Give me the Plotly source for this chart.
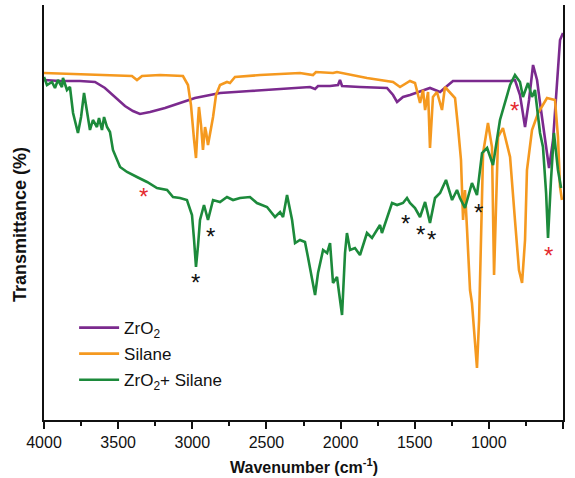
import plotly.graph_objects as go

# ---------------- data (wavenumber in cm^-1, transmittance in arbitrary units) ----------------
zro2_wn = [4000, 3892, 3757, 3656, 3589, 3521, 3454, 3400, 3353, 3285,
           3184, 3083, 2982, 2880, 2813, 2611, 2408, 2206, 2172, 2152,
           2071, 2017, 2004, 1990, 1869, 1687, 1646, 1619, 1579, 1532,
           1397, 1329, 1282, 1242, 1060, 857, 824, 790, 756, 729,
           702, 675, 655, 628, 594, 567, 540, 520, 500]
zro2_t = [340, 339, 339, 338, 332, 323, 314, 309, 306, 308,
          312, 317, 322, 325, 327, 329, 331, 333, 331, 334,
          334, 335, 340, 334, 333, 332, 325, 318, 323, 325,
          332, 328, 334, 339, 339, 339, 340, 325, 293, 320,
          355, 340, 317, 290, 252, 280, 333, 380, 387]

silane_wn = [4000, 3757, 3487, 3407, 3373, 3339, 3218, 3063, 3029, 3009,
             2988, 2975, 2961, 2955, 2941, 2928, 2914, 2907, 2894, 2874,
             2860, 2840, 2813, 2766, 2746, 2712, 2543, 2274, 2186, 2166,
             2051, 2024, 1822, 1646, 1599, 1532, 1498, 1464, 1444, 1430,
             1410, 1397, 1377, 1350, 1316, 1296, 1262, 1228, 1208, 1188,
             1174, 1161, 1147, 1127, 1114, 1093, 1080, 1066, 1053, 1039,
             1006, 979, 965, 952, 938, 905, 871, 857, 824, 797,
             776, 756, 743, 709, 668, 608, 554, 534, 520, 507]
silane_t = [347, 346, 345, 344, 340, 344, 345, 344, 335, 315,
            280, 262, 300, 313, 295, 270, 293, 288, 275, 290,
            303, 325, 335, 338, 337, 343, 345, 347, 345, 348,
            347, 348, 342, 338, 333, 339, 337, 317, 330, 310,
            328, 272, 323, 328, 310, 333, 328, 322, 293, 260,
            200, 230, 190, 130, 117, 80, 52, 100, 180, 267,
            297, 273, 145, 220, 283, 292, 270, 263, 200, 150,
            137, 180, 250, 290, 307, 322, 320, 283, 233, 220]

mix_wn = [4000, 3980, 3946, 3926, 3906, 3879, 3872, 3845, 3825, 3804,
          3771, 3750, 3730, 3710, 3690, 3670, 3643, 3629, 3609, 3595,
          3575, 3555, 3535, 3487, 3440, 3373, 3305, 3238, 3170, 3130,
          3083, 3036, 3002, 2988, 2975, 2961, 2948, 2921, 2894, 2860,
          2813, 2766, 2725, 2678, 2611, 2564, 2496, 2442, 2408, 2388,
          2361, 2327, 2307, 2274, 2240, 2220, 2193, 2172, 2152, 2118,
          2091, 2071, 2051, 2024, 2010, 1990, 1970, 1957, 1936, 1903,
          1869, 1822, 1788, 1734, 1721, 1687, 1653, 1619, 1579, 1552,
          1532, 1498, 1464, 1430, 1397, 1363, 1329, 1289, 1248, 1215,
          1195, 1161, 1114, 1080, 1046, 1012, 972, 925, 891, 857,
          824, 790, 770, 736, 709, 689, 655, 635, 614, 601,
          581, 561, 534, 513]
mix_t = [343, 335, 338, 332, 340, 333, 342, 330, 333, 307,
         287, 303, 327, 307, 290, 300, 293, 302, 290, 303,
         293, 288, 270, 253, 248, 243, 238, 232, 230, 223,
         222, 220, 205, 180, 153, 175, 200, 215, 200, 220,
         218, 223, 220, 222, 223, 217, 213, 203, 208, 203,
         225, 200, 177, 180, 178, 163, 143, 125, 147, 170,
         167, 177, 137, 143, 127, 105, 167, 187, 170, 172,
         165, 187, 182, 195, 187, 203, 217, 215, 217, 222,
         217, 212, 203, 218, 197, 222, 227, 240, 220, 230,
         222, 212, 237, 225, 267, 272, 255, 300, 317, 335,
         345, 338, 323, 337, 323, 330, 287, 273, 227, 182,
         240, 287, 250, 232]

# band markers (asterisks)
star_wn = [3332, 2975, 2874, 1559, 1464, 1390, 1073, 830, 601]
star_t = [231, 145, 191, 204, 193, 188, 215, 317, 172]
star_kind = ["red", "black", "black", "black", "black", "black", "black", "red", "red"]

x_ticks = [4000, 3500, 3000, 2500, 2000, 1500, 1000, 500]

names = ["ZrO<sub>2</sub>", "Silane", "ZrO<sub>2</sub>+ Silane"]
colors = ["#7b2a8e", "#f5991f", "#1c8a3b"]
star_colors = {"red": "#e42a2f", "black": "#111111"}

FONT = "Arial, Liberation Sans, sans-serif"

fig = go.Figure()
for i, (wn, t) in enumerate([(zro2_wn, zro2_t), (silane_wn, silane_t), (mix_wn, mix_t)]):
    fig.add_trace(go.Scatter(
        x=wn, y=t, mode="lines", name=names[i],
        line=dict(color=colors[i], width=2.6),
        legendgroup=f"g{i}",
    ))

for w, t, k in zip(star_wn, star_t, star_kind):
    fig.add_annotation(x=w, y=t, text="*", showarrow=False,
                       font=dict(family=FONT, size=24, color=star_colors[k]),
                       xanchor="center", yanchor="middle", yshift=-7)

# axis titles
fig.add_annotation(xref="paper", yref="paper", x=0.5, y=-0.111,
                   text="<b>Wavenumber (cm<sup>-1</sup>)</b>", showarrow=False,
                   font=dict(family=FONT, size=16, color="#111"),
                   xanchor="center", yanchor="middle")
fig.add_annotation(xref="paper", yref="paper", x=-0.046, y=0.47,
                   text="<b>Transmittance (%)</b>", showarrow=False, textangle=-90,
                   font=dict(family=FONT, size=18, color="#111"),
                   xanchor="center", yanchor="middle")

fig.update_layout(
    width=575, height=478,
    margin=dict(l=44, r=12, t=5, b=58, autoexpand=False),
    paper_bgcolor="white", plot_bgcolor="white",
    font=dict(family=FONT, color="#111"),
    showlegend=True,
    legend=dict(x=0.058, y=0.265, xanchor="left", yanchor="top",
                bgcolor="rgba(0,0,0,0)", font=dict(family=FONT, size=17, color="#111"),
                traceorder="grouped", tracegroupgap=1, itemwidth=40),
)
fig.update_xaxes(
    range=[4000, 500], tickvals=x_ticks, ticktext=[str(v) for v in x_ticks],
    ticks="outside", ticklen=7, tickwidth=2, tickcolor="#111",
    tickfont=dict(family=FONT, size=16, color="#111"),
    minor=dict(dtick=250, ticks="outside", ticklen=4, tickwidth=2, tickcolor="#111"),
    showline=True, linewidth=2, linecolor="#111", mirror=False,
    showgrid=False, zeroline=False, automargin=False,
)
fig.update_yaxes(
    range=[0, 415], showticklabels=False, ticks="",
    showline=True, linewidth=2, linecolor="#111", mirror=True,
    showgrid=False, zeroline=False, automargin=False,
)

fig.write_html("out.html", config={"displayModeBar": False},
               post_script="document.body.style.margin='0';document.body.style.padding='0';")
